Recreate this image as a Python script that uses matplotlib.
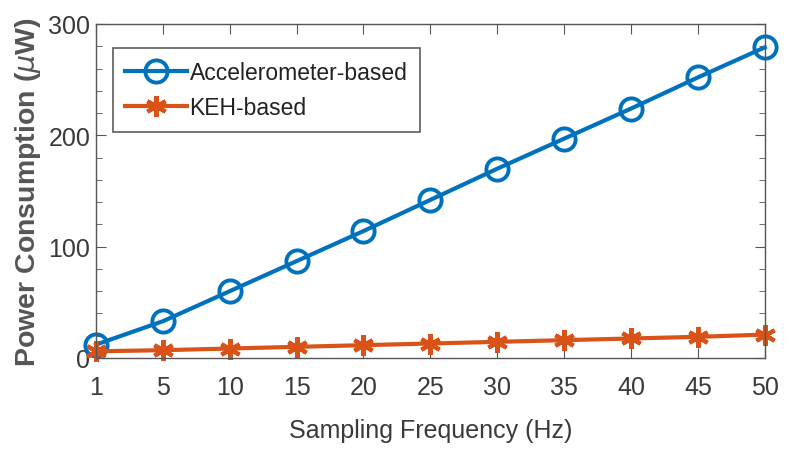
import matplotlib.pyplot as plt
import numpy as np

# Data
freq_labels = ['1', '5', '10', '15', '20', '25', '30', '35', '40', '45', '50']
accel_power = [12, 33, 60, 87, 114, 142, 170, 197, 224, 252, 279]
keh_power = [6, 7, 8.5, 10, 11.5, 13, 14.5, 16, 17.5, 19, 21]

plt.rcParams['font.family'] = ['Liberation Sans', 'DejaVu Sans']
text_color = '#3a3a3a'

fig = plt.figure(figsize=(7.9, 4.52), dpi=100)
ax = fig.add_axes([0.1215, 0.2058, 0.8465, 0.7389])

x = np.arange(len(freq_labels))
ax.plot(x, accel_power, color='#0072BD', lw=3, marker='o', ms=16,
        mfc='none', mew=2.8, label='Accelerometer-based', clip_on=False)
ax.plot(x, keh_power, color='#D95319', lw=3, marker=(6, 2, 0), ms=15,
        mew=3, label='KEH-based', clip_on=False)

ax.set_xlim(0, len(freq_labels) - 1)
ax.set_ylim(0, 300)
ax.set_xticks(x)
ax.set_xticklabels(freq_labels)
ax.set_yticks([0, 100, 200, 300])
ax.set_yticks(np.arange(0, 301, 20), minor=True)

for s in ax.spines.values():
    s.set_color('#555555')
    s.set_linewidth(1.0)
ax.tick_params(which='both', direction='in', top=True, right=True,
               colors='#555555', labelcolor=text_color, labelsize=18)
ax.tick_params(which='major', length=7)
ax.tick_params(which='minor', length=4)
ax.tick_params(axis='x', which='minor', top=False, bottom=False)
ax.tick_params(axis='x', pad=12)
ax.tick_params(axis='y', pad=4)

ax.set_xlabel('Sampling Frequency (Hz)', fontsize=18, color=text_color, labelpad=14)
ax.set_ylabel(r'Power Consumption ($\mu$W)', fontsize=20.5, color='#555555',
              fontweight='bold', labelpad=4)

leg = ax.legend(loc='upper left', bbox_to_anchor=(0.025, 0.928), fontsize=16.5,
                frameon=True, fancybox=False, handlelength=2.7, handletextpad=0.1,
                borderpad=0.55, labelspacing=0.55, borderaxespad=0)
leg.get_frame().set_edgecolor('#333333')
leg.get_frame().set_linewidth(1.2)
for t in leg.get_texts():
    t.set_color('#222222')

fig.savefig('out.png', dpi=100)
